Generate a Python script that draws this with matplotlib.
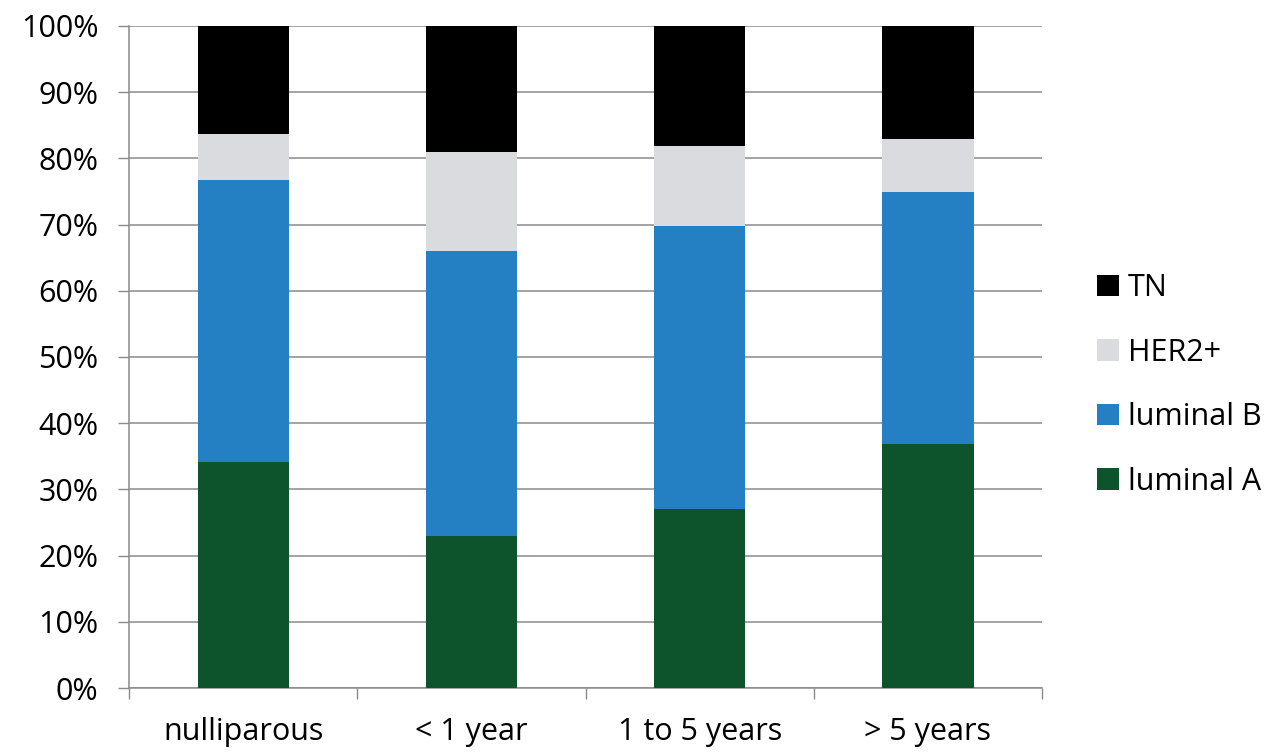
"""
Stacked 100% bars of breast cancer subtypes by time since last birth
"""
import matplotlib

matplotlib.use("Agg")
import matplotlib.pyplot as plt
import numpy as np
from matplotlib.patches import Patch
from matplotlib.ticker import FixedLocator

# categories and subtype shares (%)
categories = ["nulliparous", "< 1 year", "1 to 5 years", "> 5 years"]
luminal_a = [34.1, 23.0, 27.0, 36.8]
luminal_b = [42.6, 43.0, 42.8, 38.1]
her2 = [7.0, 15.0, 12.1, 8.0]
tn = [16.3, 19.0, 18.1, 17.1]
y_ticks = [0, 10, 20, 30, 40, 50, 60, 70, 80, 90, 100]

series = [
    ("luminal A", luminal_a, "#0d532c"),
    ("luminal B", luminal_b, "#2580c3"),
    ("HER2+", her2, "#dadbde"),
    ("TN", tn, "#000000"),
]

plt.rcParams["font.family"] = ["Open Sans", "DejaVu Sans"]
fs = 22

fig = plt.figure(figsize=(12.7, 7.53), dpi=100)
ax = fig.add_axes([0.1016, 0.0863, 0.7189, 0.8792])

x = np.arange(len(categories))
bottom = np.zeros(len(categories))
for name, vals, color in series:
    vals = np.array(vals)
    ax.bar(x, vals, bottom=bottom, width=0.4, color=color, zorder=3, label=name)
    bottom += vals

ax.set_xlim(-0.5, len(categories) - 0.5)
ax.set_ylim(0, 100)

# gridlines and axes
ax.set_yticks(y_ticks)
ax.set_yticklabels([f"{t}%" for t in y_ticks])
ax.yaxis.grid(True, color="#8a8a8a", linewidth=1.1, zorder=0)
ax.set_axisbelow(True)
ax.tick_params(axis="y", length=8, width=1, color="#8a8a8a", pad=14, labelsize=fs)

ax.xaxis.set_major_locator(FixedLocator(np.arange(-0.5, len(categories), 1.0)))
ax.xaxis.set_minor_locator(FixedLocator(x))
ax.set_xticklabels([], minor=False)
ax.set_xticklabels(categories, minor=True)
ax.tick_params(axis="x", which="major", length=8, width=1, color="#8a8a8a")
ax.tick_params(axis="x", which="minor", length=0, pad=21, labelsize=fs)

for side in ["top", "right"]:
    ax.spines[side].set_visible(False)
for side in ["left", "bottom"]:
    ax.spines[side].set_color("#8a8a8a")
    ax.spines[side].set_linewidth(1.1)

# legend, TN on top
handles = [Patch(facecolor=c, label=n) for n, _, c in series][::-1]
fig.legend(
    handles=handles,
    loc="center left",
    bbox_to_anchor=(0.864, 0.489),
    frameon=False,
    fontsize=fs,
    handlelength=0.7,
    handleheight=0.7,
    handletextpad=0.3,
    labelspacing=1.13,
    borderaxespad=0,
    borderpad=0,
)

plt.savefig("out.png", dpi=100)
